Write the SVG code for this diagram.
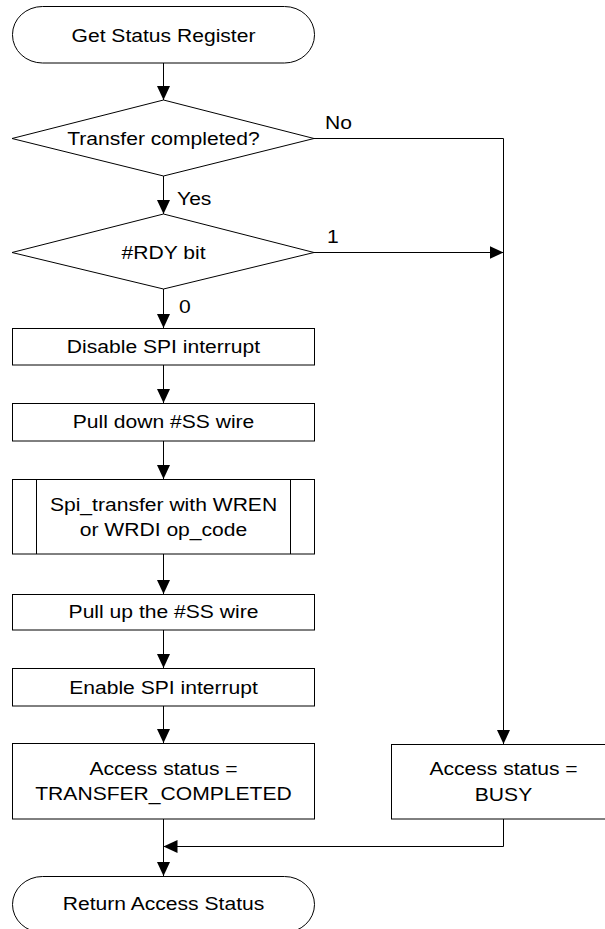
<svg xmlns="http://www.w3.org/2000/svg" width="605" height="929" viewBox="0 0 605 929">
<style>
  .shape { fill: #ffffff; stroke: #000000; stroke-width: 1; }
  .conn { fill: none; stroke: #000000; stroke-width: 1; }
  text { font-family: "Liberation Sans", Arial, sans-serif; font-size: 18.5px; fill: #000000; text-anchor: middle; }
  text.lbl { text-anchor: start; }
</style>
<defs>
  <marker id="arrow" markerUnits="userSpaceOnUse" markerWidth="14" markerHeight="13" refX="14" refY="6.5" orient="auto">
    <path d="M0,0 L14,6.5 L0,13 Z" fill="#000000"/>
  </marker>
</defs>
<rect width="605" height="929" fill="#ffffff"/>

<g id="connectors">
  <line class="conn" x1="163.5" y1="63" x2="163.5" y2="100" marker-end="url(#arrow)"/>
  <line class="conn" x1="163.5" y1="176" x2="163.5" y2="214" marker-end="url(#arrow)"/>
  <line class="conn" x1="163.5" y1="289" x2="163.5" y2="328" marker-end="url(#arrow)"/>
  <line class="conn" x1="163.5" y1="365" x2="163.5" y2="403" marker-end="url(#arrow)"/>
  <line class="conn" x1="163.5" y1="441" x2="163.5" y2="479" marker-end="url(#arrow)"/>
  <line class="conn" x1="163.5" y1="554" x2="163.5" y2="594" marker-end="url(#arrow)"/>
  <line class="conn" x1="163.5" y1="630" x2="163.5" y2="668" marker-end="url(#arrow)"/>
  <line class="conn" x1="163.5" y1="706" x2="163.5" y2="743" marker-end="url(#arrow)"/>
  <line class="conn" x1="163.5" y1="819" x2="163.5" y2="876" marker-end="url(#arrow)"/>
  <polyline class="conn" points="314,138.5 503.5,138.5 503.5,744" marker-end="url(#arrow)"/>
  <line class="conn" x1="314" y1="252.5" x2="503.5" y2="252.5" marker-end="url(#arrow)"/>
  <polyline class="conn" points="503.5,819 503.5,846.5 163.5,846.5" marker-end="url(#arrow)"/>
  <text class="lbl" transform="translate(325 129) scale(1.14 1)">No</text>
  <text class="lbl" transform="translate(177 205) scale(1.14 1)">Yes</text>
  <text class="lbl" transform="translate(327 243) scale(1.14 1)">1</text>
  <text class="lbl" transform="translate(179 313) scale(1.14 1)">0</text>
</g>

<g id="start">
  <rect class="shape" x="12.5" y="6.5" width="302" height="56.5" rx="30" ry="28"/>
  <text transform="translate(163.5 42) scale(1.14 1)">Get Status Register</text>
</g>

<g id="transfer-completed">
  <polygon class="shape" points="163.5,100 314,138.5 163.5,176 12,138.5"/>
  <text transform="translate(163.5 145) scale(1.14 1)">Transfer completed?</text>
</g>

<g id="rdy-bit">
  <polygon class="shape" points="163.5,214 314,252.5 163.5,289 12,252.5"/>
  <text transform="translate(163.5 258.5) scale(1.14 1)">#RDY bit</text>
</g>

<g id="disable-spi">
  <rect class="shape" x="12.5" y="328.5" width="302" height="36.5"/>
  <text transform="translate(163.5 353) scale(1.14 1)">Disable SPI interrupt</text>
</g>

<g id="pull-down">
  <rect class="shape" x="12.5" y="403.5" width="302" height="37.5"/>
  <text transform="translate(163.5 428) scale(1.14 1)">Pull down #SS wire</text>
</g>

<g id="spi-transfer">
  <rect class="shape" x="12.5" y="479.5" width="302" height="74.5"/>
  <line class="conn" x1="36.5" y1="479.5" x2="36.5" y2="554"/>
  <line class="conn" x1="290.5" y1="479.5" x2="290.5" y2="554"/>
  <text transform="translate(163.5 511) scale(1.14 1)">Spi_transfer with WREN</text>
  <text transform="translate(163.5 536) scale(1.14 1)">or WRDI op_code</text>
</g>

<g id="pull-up">
  <rect class="shape" x="12.5" y="594.5" width="302" height="35.5"/>
  <text transform="translate(163.5 618) scale(1.14 1)">Pull up the #SS wire</text>
</g>

<g id="enable-spi">
  <rect class="shape" x="12.5" y="668.5" width="302" height="37.5"/>
  <text transform="translate(163.5 694) scale(1.14 1)">Enable SPI interrupt</text>
</g>

<g id="status-completed">
  <rect class="shape" x="12.5" y="743.5" width="302" height="75.5"/>
  <text transform="translate(163.5 775) scale(1.14 1)">Access status =</text>
  <text transform="translate(163.5 800) scale(1.14 1)">TRANSFER_COMPLETED</text>
</g>

<g id="status-busy">
  <rect class="shape" x="391.5" y="744.5" width="224" height="74.5"/>
  <text transform="translate(503.5 775) scale(1.14 1)">Access status =</text>
  <text transform="translate(503.5 801) scale(1.14 1)">BUSY</text>
</g>

<g id="end">
  <rect class="shape" x="12.5" y="876.5" width="302" height="56" rx="30" ry="28"/>
  <text transform="translate(163.5 910) scale(1.14 1)">Return Access Status</text>
</g>
</svg>
